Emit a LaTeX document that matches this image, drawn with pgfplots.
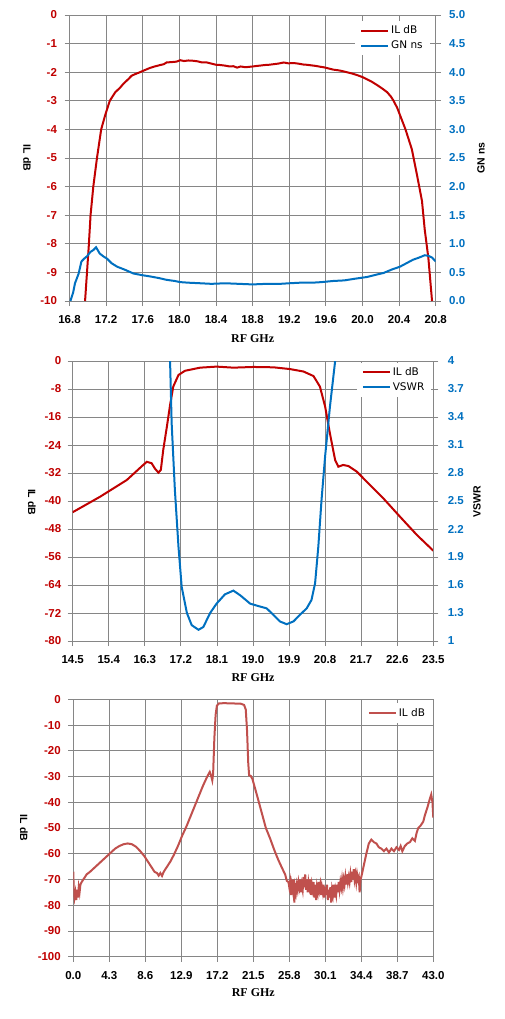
\documentclass[border=0pt]{standalone}
\usepackage{fontspec}
\setmainfont{Liberation Sans}
\newfontfamily\rfserif{Liberation Serif}
\newfontfamily\lgfont{DejaVu Sans}
\usepackage{pgfplots}
\pgfplotsset{compat=1.18}
\definecolor{ilred}{RGB}{192,0,0}
\definecolor{gnblue}{RGB}{0,112,192}
\definecolor{ilredb}{RGB}{192,80,77}
\definecolor{gridgray}{RGB}{134,134,134}
\pgfplotsset{
  base/.style={
    scale only axis,
    axis line style={gridgray,line width=0.8pt},
    tick style={gridgray,line width=0.8pt},
    tick align=outside,
    major tick length=5pt,
    /pgf/number format/assume math mode=true,
    tick label style={font=\fontsize{11.5}{11.5}\selectfont\bfseries},
    xticklabel style={yshift=-6pt},
    legend image code/.code={\draw[#1] (0pt,0pt) -- (27pt,0pt);},
  },
  lgd/.style={legend style={draw=none, fill=white, font=\lgfont\fontsize{10.5}{13}\selectfont, inner xsep=5pt, inner ysep=3pt, row sep=1.5pt, legend cell align=left}},
}
\begin{document}
\begin{tikzpicture}
\path[use as bounding box] (0,0) rectangle (505pt,-1019pt);
% ================= chart 1 =================
\begin{axis}[base,
  at={(69.5pt,-301pt)}, anchor=south west, width=366.2pt, height=286pt,
  xmin=16.8, xmax=20.8, ymin=-10, ymax=0,
  axis x line*=bottom, axis y line*=left,
  grid=major, major grid style={gridgray,line width=0.8pt},
  xtick={16.8,17.2,17.6,18.0,18.4,18.8,19.2,19.6,20.0,20.4,20.8},
  xticklabel style={/pgf/number format/.cd,fixed,fixed zerofill,precision=1},
  ytick={-10,-9,-8,-7,-6,-5,-4,-3,-2,-1,0},
  yticklabel style={text=ilred, xshift=-4pt},
  xlabel={RF GHz}, ylabel={IL dB},
  every axis x label/.style={at={(axis description cs:0.5,-0.133)}, anchor=center, font=\rfserif\fontsize{12}{12}\selectfont\bfseries},
  every axis y label/.style={at={(axis description cs:-0.116,0.5)}, anchor=center, rotate=-90, font=\fontsize{10.5}{10.5}\selectfont\bfseries},
]
\addplot[ilred, line width=2pt] coordinates {
(16.97,-10) (17.01,-8.1) (17.03,-7) (17.06,-6) (17.10,-5) (17.146,-4) (17.19,-3.5) (17.24,-3.0) (17.30,-2.7) (17.35,-2.55) (17.39,-2.4) (17.44,-2.25) (17.48,-2.12) (17.53,-2.05) (17.57,-2.0) (17.62,-1.93) (17.68,-1.85) (17.73,-1.8) (17.79,-1.75) (17.83,-1.72) (17.86,-1.66) (17.90,-1.65) (17.94,-1.64) (17.97,-1.63) (18.01,-1.58) (18.05,-1.61) (18.10,-1.59) (18.15,-1.60) (18.20,-1.62) (18.25,-1.66) (18.30,-1.66) (18.35,-1.70) (18.40,-1.74) (18.45,-1.75) (18.50,-1.77) (18.55,-1.80) (18.59,-1.79) (18.63,-1.84) (18.67,-1.80) (18.71,-1.82) (18.74,-1.82) (18.80,-1.80) (18.85,-1.78) (18.88,-1.77) (18.93,-1.75) (18.98,-1.74) (19.03,-1.72) (19.08,-1.70) (19.14,-1.66) (19.19,-1.69) (19.25,-1.68) (19.30,-1.70) (19.35,-1.73) (19.39,-1.74) (19.44,-1.76) (19.49,-1.78) (19.54,-1.81) (19.58,-1.83) (19.63,-1.87) (19.68,-1.91) (19.73,-1.93) (19.78,-1.96) (19.83,-2.0) (19.88,-2.04) (19.94,-2.1) (20.0,-2.17) (20.05,-2.25) (20.10,-2.33) (20.16,-2.45) (20.22,-2.58) (20.27,-2.7) (20.31,-2.85) (20.34,-3.0) (20.38,-3.25) (20.41,-3.5) (20.44,-3.75) (20.47,-4.0) (20.51,-4.4) (20.54,-4.7) (20.59,-5.5) (20.62,-6.0) (20.65,-6.5) (20.68,-7.5) (20.72,-8.5) (20.76,-10)
};
\end{axis}
\begin{axis}[base, lgd,
  at={(69.5pt,-301pt)}, anchor=south west, width=366.2pt, height=286pt,
  xmin=16.8, xmax=20.8, ymin=0, ymax=5,
  axis x line=none, axis y line*=right,
  ytick={0,0.5,1,1.5,2,2.5,3,3.5,4,4.5,5},
  yticklabel style={text=gnblue, xshift=5pt, /pgf/number format/.cd,fixed,fixed zerofill,precision=1},
  ylabel={GN ns},
  every axis y label/.style={at={(axis description cs:1.124,0.5)}, anchor=center, rotate=90, font=\fontsize{10.5}{10.5}\selectfont\bfseries},
  legend style={at={(rel axis cs:0.984,0.98)}, anchor=north east},
]
\addlegendimage{ilred, line width=2pt}
\addlegendentry{IL dB}
\addplot[gnblue, line width=2pt] coordinates {
(16.81,0.0) (16.84,0.15) (16.86,0.31) (16.90,0.48) (16.93,0.69) (16.96,0.74) (16.99,0.78) (17.03,0.86) (17.06,0.89) (17.09,0.94) (17.13,0.83) (17.17,0.78) (17.21,0.74) (17.26,0.66) (17.32,0.60) (17.40,0.55) (17.50,0.48) (17.60,0.45) (17.68,0.43) (17.78,0.40) (17.86,0.37) (17.95,0.35) (18.01,0.33) (18.10,0.32) (18.23,0.31) (18.35,0.30) (18.5,0.31) (18.65,0.30) (18.8,0.29) (18.95,0.30) (19.1,0.30) (19.2,0.31) (19.32,0.32) (19.45,0.32) (19.55,0.33) (19.68,0.35) (19.80,0.36) (19.92,0.39) (20.05,0.42) (20.15,0.46) (20.23,0.49) (20.32,0.55) (20.41,0.60) (20.48,0.66) (20.55,0.72) (20.62,0.76) (20.68,0.80) (20.72,0.79) (20.76,0.76) (20.80,0.69)
};
\addlegendentry{GN ns}
\end{axis}
% ================= chart 2 =================
\begin{axis}[base,
  at={(72.7pt,-641pt)}, anchor=south west, width=360.6pt, height=280pt,
  xmin=14.5, xmax=23.5, ymin=-80, ymax=0,
  axis x line*=bottom, axis y line*=left,
  grid=major, major grid style={gridgray,line width=0.8pt},
  xtick={14.5,15.4,16.3,17.2,18.1,19.0,19.9,20.8,21.7,22.6,23.5},
  xticklabel style={/pgf/number format/.cd,fixed,fixed zerofill,precision=1},
  ytick={-80,-72,-64,-56,-48,-40,-32,-24,-16,-8,0},
  yticklabel style={text=ilred, xshift=-3pt},
  xlabel={RF GHz}, ylabel={IL dB},
  every axis x label/.style={at={(axis description cs:0.5,-0.132)}, anchor=center, font=\rfserif\fontsize{12}{12}\selectfont\bfseries},
  every axis y label/.style={at={(axis description cs:-0.113,0.496)}, anchor=center, rotate=-90, font=\fontsize{10.5}{10.5}\selectfont\bfseries},
]
\addplot[ilred, line width=2pt] coordinates {
(14.5,-43.2) (15.18,-38.8) (15.85,-34.0) (16.26,-29.7) (16.35,-28.8) (16.47,-29.2) (16.55,-30.7) (16.64,-31.9) (16.70,-31.1) (16.76,-25.4) (16.85,-18.8) (16.93,-12.6) (17.01,-7.3) (17.14,-4.0) (17.30,-2.8) (17.68,-1.9) (18.09,-1.6) (18.51,-1.9) (19.01,-1.7) (19.51,-1.8) (19.92,-2.3) (20.26,-3.0) (20.51,-4.3) (20.67,-7.3) (20.80,-13.0) (20.92,-20.7) (21.05,-28.3) (21.13,-30.2) (21.25,-29.7) (21.38,-30.0) (21.59,-31.6) (21.84,-34.5) (22.25,-39.2) (22.67,-44.5) (23.09,-49.7) (23.50,-54.2)
};
\end{axis}
\begin{axis}[base, lgd,
  at={(72.7pt,-641pt)}, anchor=south west, width=360.6pt, height=280pt,
  xmin=14.5, xmax=23.5, ymin=1, ymax=4,
  axis x line=none, axis y line*=right,
  ytick={1,1.3,1.6,1.9,2.2,2.5,2.8,3.1,3.4,3.7,4},
  yticklabel style={text=gnblue, xshift=6pt},
  ylabel={VSWR},
  every axis y label/.style={at={(axis description cs:1.121,0.496)}, anchor=center, rotate=90, font=\fontsize{10.5}{10.5}\selectfont\bfseries},
  legend style={at={(rel axis cs:0.995,0.995)}, anchor=north east},
]
\addlegendimage{ilred, line width=2pt}
\addlegendentry{IL dB}
\addplot[gnblue, line width=2pt] coordinates {
(16.91,4.1) (16.93,4.0) (16.97,3.33) (17.05,2.62) (17.14,2.01) (17.22,1.58) (17.35,1.30) (17.47,1.17) (17.64,1.12) (17.76,1.15) (17.93,1.30) (18.09,1.40) (18.30,1.50) (18.51,1.54) (18.68,1.49) (18.93,1.40) (19.17,1.37) (19.34,1.35) (19.51,1.28) (19.67,1.21) (19.84,1.18) (20.01,1.21) (20.17,1.28) (20.34,1.35) (20.46,1.44) (20.55,1.62) (20.63,2.01) (20.71,2.51) (20.80,2.98) (20.92,3.51) (21.05,4.0) (21.07,4.1)
};
\addlegendentry{VSWR}
\end{axis}
% ================= chart 3 =================
\begin{axis}[base, lgd,
  at={(73.3pt,-956.7pt)}, anchor=south west, width=360pt, height=257.4pt,
  xmin=0, xmax=43, ymin=-100, ymax=0,
  axis x line*=bottom, axis y line*=left,
  grid=major, major grid style={gridgray,line width=0.8pt},
  xtick={0,4.3,8.6,12.9,17.2,21.5,25.8,30.1,34.4,38.7,43.0},
  xticklabel style={/pgf/number format/.cd,fixed,fixed zerofill,precision=1},
  ytick={-100,-90,-80,-70,-60,-50,-40,-30,-20,-10,0},
  yticklabel style={text=ilred, xshift=-4pt},
  xlabel={RF GHz}, ylabel={IL dB},
  every axis x label/.style={at={(axis description cs:0.5,-0.141)}, anchor=center, font=\rfserif\fontsize{12}{12}\selectfont\bfseries},
  every axis y label/.style={at={(axis description cs:-0.137,0.5)}, anchor=center, rotate=-90, font=\fontsize{10.5}{10.5}\selectfont\bfseries},
  legend style={at={(rel axis cs:0.997,0.985)}, anchor=north east},
]
\addplot[ilredb, line width=2pt] coordinates {
(0,-67) (0.05,-74) (0.15,-77) (0.25,-75) (0.35,-78) (0.45,-74) (0.55,-77) (0.65,-73) (0.75,-75) (0.85,-72) (1.0,-71) (1.2,-70) (1.4,-69) (1.6,-68) (2.0,-67) (2.5,-65.5) (3.0,-64) (3.5,-62.5) (4.0,-61) (4.5,-59.5) (5.0,-58) (5.5,-57) (6.0,-56.3) (6.5,-56) (7.0,-56.3) (7.5,-57.3) (8.0,-59) (8.5,-61) (9.0,-63.5) (9.4,-65.5) (9.7,-67) (10.0,-67.5) (10.2,-68.5) (10.4,-67.5) (10.6,-68.6) (10.8,-67) (11.0,-66) (11.3,-64.5) (11.6,-63) (12.0,-60.5) (12.5,-57) (13.0,-53) (13.5,-49.5) (14.0,-45.5) (14.5,-41.5) (15.0,-37.5) (15.5,-33.5) (16.0,-30) (16.3,-28.2) (16.45,-29.5) (16.6,-31.5) (16.7,-29) (16.85,-15) (17.0,-6) (17.15,-2.5) (17.4,-1.6) (18.0,-1.5) (19.0,-1.6) (20.0,-1.7) (20.4,-2.2) (20.6,-4) (20.75,-12) (20.9,-25) (21.0,-29.5) (21.2,-29.8) (21.4,-31) (21.7,-34.5) (22.0,-38) (22.5,-44) (23.0,-50) (23.5,-54) (24.0,-58.5) (24.5,-62.5) (25.0,-66) (25.3,-68) (25.5,-70.5) (25.7,-71)
(25.8,-73) (25.9,-71) (26.0,-76) (26.1,-72) (26.2,-74) (26.3,-70) (26.4,-79) (26.5,-73) (26.6,-75) (26.7,-72) (26.8,-74) (26.9,-71) (27.0,-73) (27.1,-70) (27.2,-75) (27.3,-72) (27.4,-74) (27.5,-69) (27.6,-73) (27.7,-68) (27.8,-74) (27.9,-70) (28.0,-75) (28.1,-71) (28.2,-73) (28.3,-70) (28.4,-76) (28.5,-72) (28.6,-74) (28.7,-71) (28.8,-77) (28.9,-72) (29.0,-78) (29.1,-73) (29.2,-75) (29.3,-71) (29.4,-74) (29.5,-72) (29.6,-76) (29.7,-73) (29.8,-75) (29.9,-72) (30.0,-77) (30.1,-73) (30.2,-76) (30.3,-72) (30.4,-78) (30.5,-74) (30.6,-77) (30.7,-73) (30.8,-79) (30.9,-74) (31.0,-76) (31.1,-72) (31.2,-77) (31.3,-74) (31.4,-76) (31.5,-72) (31.6,-75) (31.7,-71) (31.8,-74) (31.9,-71) (32.0,-73) (32.1,-70) (32.2,-73) (32.3,-70) (32.4,-72) (32.5,-69) (32.6,-72) (32.7,-68) (32.8,-71) (32.9,-69) (33.0,-71) (33.1,-68) (33.2,-71) (33.3,-67) (33.4,-70) (33.5,-66) (33.6,-70) (33.7,-68) (33.8,-71) (33.9,-68) (34.0,-70) (34.1,-69) (34.2,-75) (34.3,-70) (34.4,-69)
(34.6,-66) (35.0,-60) (35.3,-56) (35.6,-54.5) (35.9,-55.5) (36.2,-56) (36.5,-57.5) (36.8,-58) (37.1,-59) (37.4,-58) (37.7,-59.5) (38.0,-58) (38.3,-59) (38.6,-57.5) (38.9,-58.5) (39.1,-57) (39.3,-59) (39.6,-57) (39.9,-56) (40.2,-55.5) (40.5,-54) (40.8,-55) (41.0,-52) (41.2,-50) (41.5,-49) (41.8,-47.5) (42.0,-45) (42.3,-42) (42.6,-38.5) (42.75,-37) (42.9,-40) (43.0,-46)
};
\addlegendentry{IL dB}
\end{axis}
\end{tikzpicture}
\end{document}
